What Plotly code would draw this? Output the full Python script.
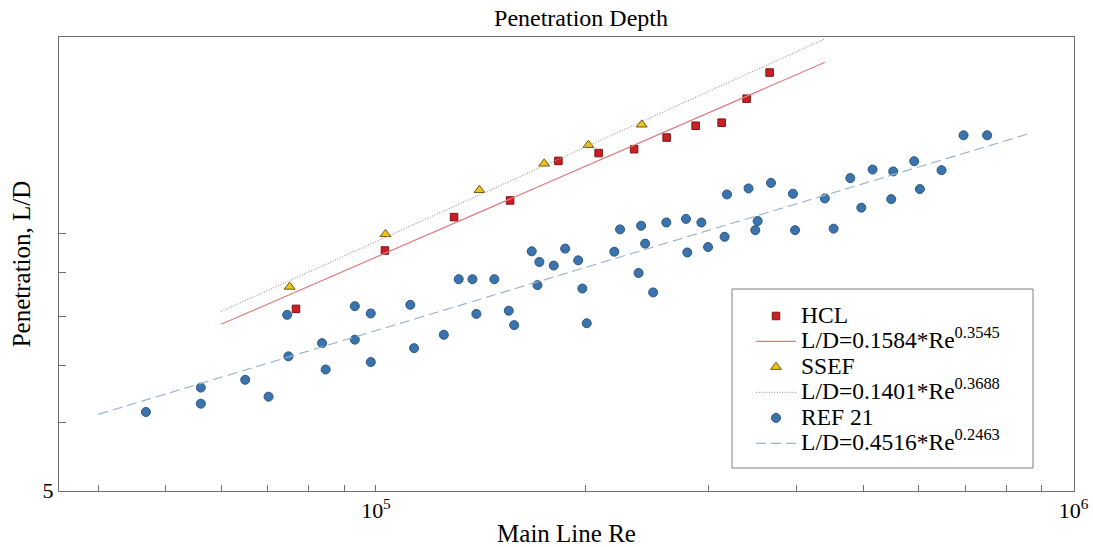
import numpy as np
import plotly.graph_objects as go

# ---- measured data -------------------------------------------------------
hcl_re = [76800, 103000, 129400, 155700, 182600, 208500,
          234400, 261000, 287200, 312900, 339800, 366600]
hcl_ld = [8.16, 9.55, 10.45, 10.93, 12.16, 12.42,
          12.55, 12.95, 13.37, 13.48, 14.38, 15.43]

ssef_re = [75200, 103200, 140700, 174200, 201600, 240400]
ssef_ld = [8.66, 9.98, 11.24, 12.07, 12.69, 13.41]

ref21_re = [46800, 56100, 56100, 64950, 70150, 74600, 74900, 83700, 84700,
            93250, 93250, 98300, 98300, 112000, 113400, 125100, 131400,
            137500, 139300, 147800, 155000, 157800, 167200, 170400, 171500,
            179800, 186700, 194900, 197600, 200500, 219600, 223800, 237900,
            239900, 243100, 249600, 260700, 278200, 279400, 292700, 299200,
            316000, 318500, 342000, 349700, 352400, 368300, 396000, 398700,
            439900, 452800, 478500, 496200, 515000, 547700, 551300, 590800,
            602000, 646600, 695300, 751700]
ref21_ld = [6.18, 6.60, 6.32, 6.74, 6.44, 8.03, 7.18, 7.44, 6.93,
            8.22, 7.51, 8.06, 7.07, 8.25, 7.34, 7.61, 8.84,
            8.84, 8.05, 8.84, 8.12, 7.81, 9.53, 8.70, 9.26,
            9.17, 9.60, 9.30, 8.62, 7.85, 9.52, 10.11, 8.99,
            10.21, 9.73, 8.53, 10.30, 10.40, 9.50, 10.30, 9.64,
            9.91, 11.11, 11.29, 10.09, 10.34, 11.46, 11.13, 10.09,
            10.99, 10.13, 11.61, 10.72, 11.88, 10.97, 11.82, 12.15,
            11.27, 11.86, 13.03, 13.03]

# power-law fits  L/D = a * Re^b  and the Re span each one is drawn over
hcl_fit = (0.1584, 0.3545)
ssef_fit = (0.1401, 0.3688)
ref21_fit = (0.4516, 0.2463)
hcl_fit_span = [60000, 440000]
ssef_fit_span = [60000, 440000]
ref21_fit_span = [40000, 870000]

x_tick_vals = [4e4, 5e4, 6e4, 7e4, 8e4, 9e4, 1e5, 2e5, 3e5, 4e5, 5e5,
               6e5, 7e5, 8e5, 9e5, 1e6]
x_tick_text = ["", "", "", "", "", "", "10<sup>5</sup>", "", "", "", "",
               "", "", "", "", "10<sup>6</sup>"]
y_tick_vals = [5, 6, 7, 8, 9, 10]
y_tick_text = ["5", "", "", "", "", ""]

# ---- styling ---------------------------------------------------------------
FONT = "Liberation Serif"
AXIS_GREY = "#6e6e6e"


def legend_label(text):
    return f"<span style='font-size:23.5px'>{text}</span>"


def fit_label(a, b):
    return legend_label(f"L/D={a}*Re<sup>{b}</sup>")


def fit_curve(coef, span):
    a, b = coef
    re = np.array(span, dtype=float)
    return re, a * re ** b


fig = go.Figure()

fig.add_trace(go.Scatter(
    x=hcl_re, y=hcl_ld, mode="markers", name=legend_label("HCL"),
    marker=dict(symbol="square", size=7.5, color="#cc1f24",
                line=dict(color="#7a1414", width=1))))
x, y = fit_curve(hcl_fit, hcl_fit_span)
fig.add_trace(go.Scatter(
    x=x, y=y, mode="lines", name=fit_label(*hcl_fit),
    line=dict(color="#e07c80", width=1.2)))

fig.add_trace(go.Scatter(
    x=ssef_re, y=ssef_ld, mode="markers", name=legend_label("SSEF"),
    marker=dict(symbol="triangle-up", size=9.5, color="#f2c21b",
                line=dict(color="#6b5a12", width=1))))
x, y = fit_curve(ssef_fit, ssef_fit_span)
fig.add_trace(go.Scatter(
    x=x, y=y, mode="lines", name=fit_label(*ssef_fit),
    line=dict(color="#a89a9a", width=1.2, dash="1px,1.6px")))

fig.add_trace(go.Scatter(
    x=ref21_re, y=ref21_ld, mode="markers", name=legend_label("REF 21"),
    marker=dict(symbol="circle", size=9, color="#3b74ad",
                line=dict(color="#2a5683", width=1))))
x, y = fit_curve(ref21_fit, ref21_fit_span)
fig.add_trace(go.Scatter(
    x=x, y=y, mode="lines", name=fit_label(*ref21_fit),
    line=dict(color="#9db6cb", width=1.2, dash="10px,5px")))

axis_common = dict(
    type="log", showgrid=False, zeroline=False,
    showline=True, linecolor=AXIS_GREY, linewidth=1, mirror=True,
    ticks="inside", tickcolor=AXIS_GREY, tickwidth=1,
    tickfont=dict(family=FONT, size=22, color="black"),
)

fig.update_xaxes(
    **axis_common,
    range=[np.log10(35130), 6.0005],
    tickmode="array", tickvals=x_tick_vals, ticktext=x_tick_text,
    ticklen=6,
    title=dict(text="Main Line Re", font=dict(family=FONT, size=25),
               standoff=6),
)
fig.update_yaxes(
    **axis_common,
    range=[np.log10(5) - 0.0005, 1.2300],
    tickmode="array", tickvals=y_tick_vals, ticktext=y_tick_text,
    ticklen=7,
    title=dict(text="Penetration, L/D", font=dict(family=FONT, size=25),
               standoff=4),
)

# frame around the legend entries
fig.add_shape(type="rect", xref="paper", yref="paper",
              x0=0.6631, x1=0.9596, y0=0.0507, y1=0.4449,
              line=dict(color="#808080", width=1), fillcolor="white",
              layer="below")

fig.update_layout(
    width=1093, height=547,
    margin=dict(l=59, r=19, t=37, b=56, autoexpand=False),
    paper_bgcolor="white", plot_bgcolor="white",
    font=dict(family=FONT, color="black", size=22),
    title=dict(text="Penetration Depth", x=0.5316, xanchor="center",
               y=0.967, yanchor="middle",
               font=dict(family=FONT, size=24, color="black")),
    showlegend=True,
    legend=dict(x=0.6818, y=0.4246, xanchor="left", yanchor="top",
                bgcolor="rgba(0,0,0,0)", borderwidth=0,
                font=dict(family=FONT, size=17.3, color="black"),
                itemwidth=40, tracegroupgap=0, traceorder="normal"),
)

fig.write_html("out.html")
